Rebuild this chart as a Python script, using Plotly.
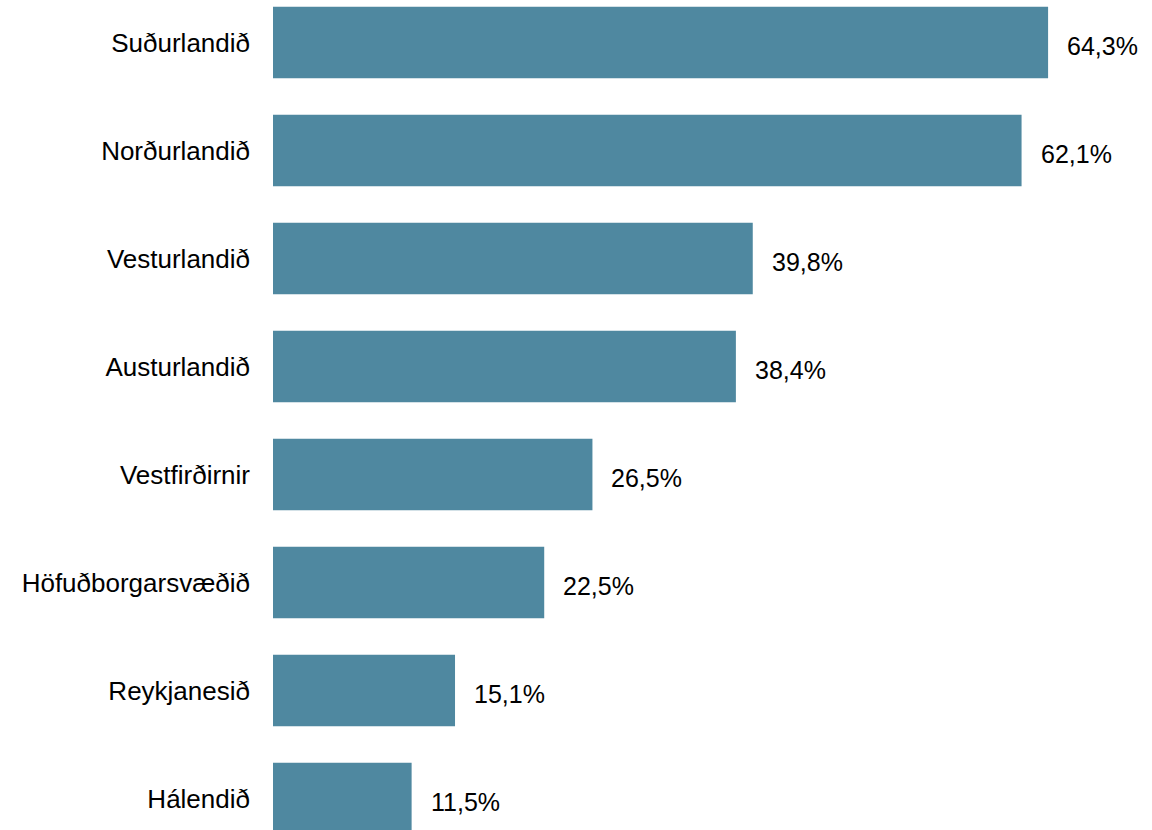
import plotly.graph_objects as go

# Data
regions = ['Suðurlandið', 'Norðurlandið', 'Vesturlandið', 'Austurlandið',
           'Vestfirðirnir', 'Höfuðborgarsvæðið', 'Reykjanesið', 'Hálendið']
shares = [64.3, 62.1, 39.8, 38.4, 26.5, 22.5, 15.1, 11.5]
labels = [f"{v:.1f}%".replace('.', ',') for v in shares]

BAR_COLOR = '#4F88A0'
FONT = 'Liberation Sans, Arial, sans-serif'

fig = go.Figure()
fig.add_trace(go.Bar(
    x=shares, y=regions, orientation='h',
    marker=dict(color=BAR_COLOR, line=dict(width=0)),
    hoverinfo='skip',
))

for r, v, t in zip(regions, shares, labels):
    fig.add_annotation(
        x=v, y=r, text=t, showarrow=False,
        xanchor='left', yanchor='middle', xshift=17, yshift=-3,
        font=dict(family=FONT, size=25, color='#000000'),
    )

fig.update_layout(
    width=1152, height=830,
    margin=dict(l=273, r=0, t=0, b=0),
    plot_bgcolor='white', paper_bgcolor='white',
    bargap=0.338,
    showlegend=False,
    font=dict(family=FONT, size=25, color='#000000'),
)
fig.update_xaxes(range=[0, 72.92], visible=False, showgrid=False, zeroline=False)
fig.update_yaxes(
    categoryorder='array', categoryarray=regions,
    range=[7.2917, -0.3935],
    showgrid=False, zeroline=False, showline=False,
    ticks='', ticklabelstandoff=22,
    tickfont=dict(family=FONT, size=26, color='#000000'),
)

fig.write_html("out.html", config={'displayModeBar': False},
               post_script="document.body.style.margin='0';document.body.style.overflow='hidden';")
